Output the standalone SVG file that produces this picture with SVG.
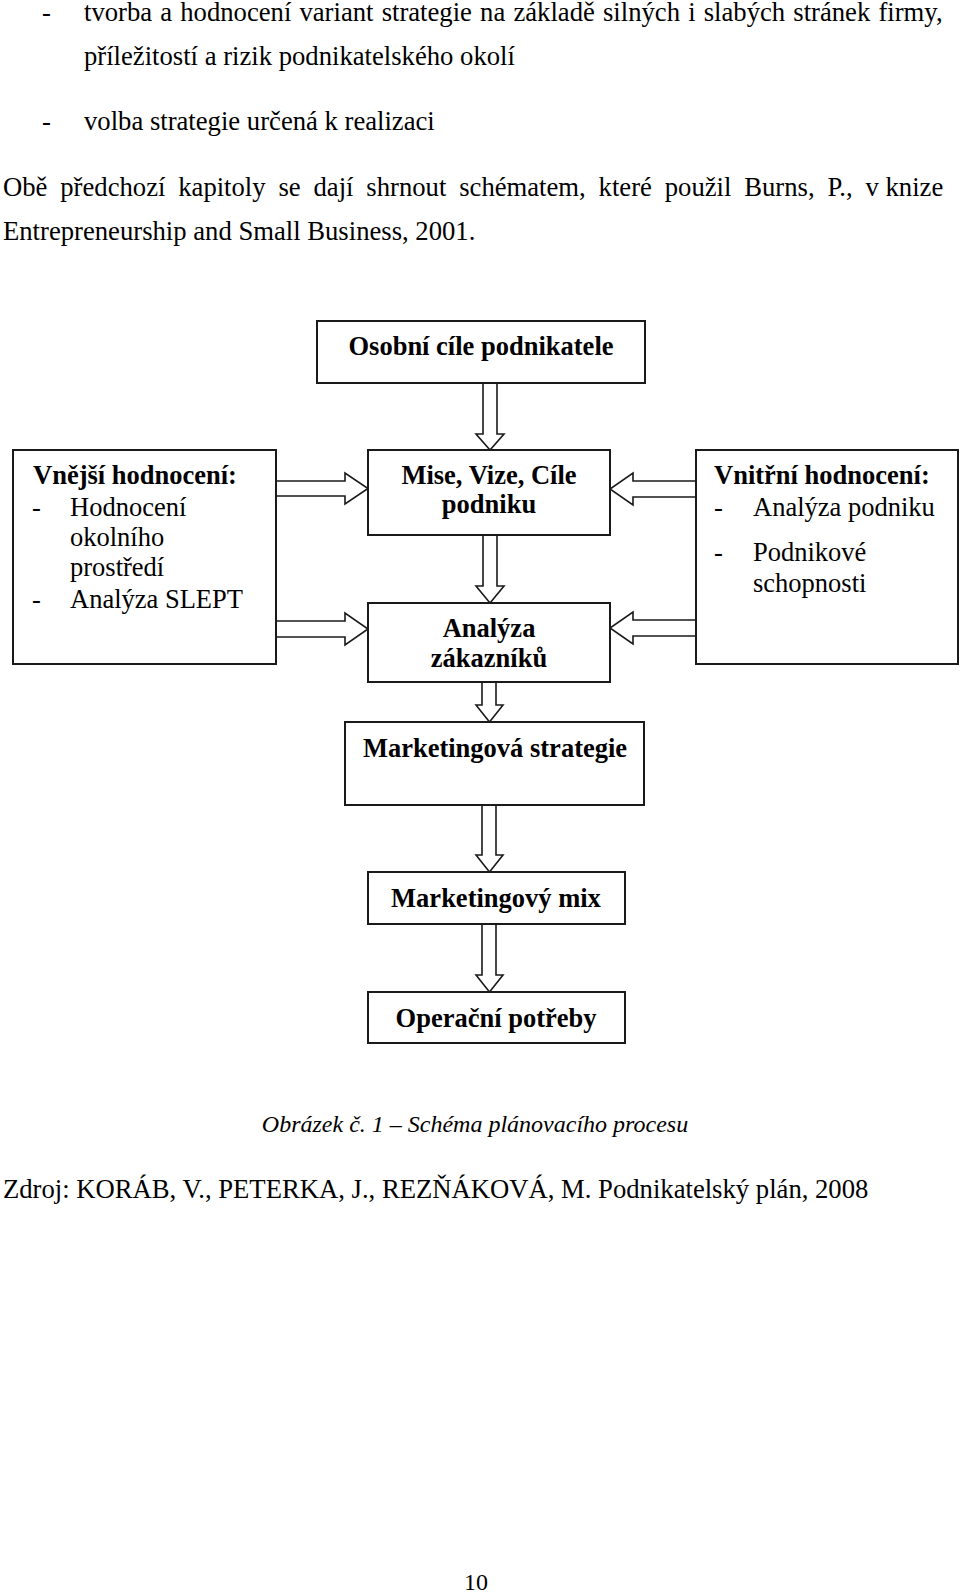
<svg xmlns="http://www.w3.org/2000/svg" width="960" height="1596" viewBox="0 0 960 1596">
<style>
text{font-family:"Liberation Serif","Times New Roman",serif;fill:#000}
.body{font-size:26.67px}
.b{font-size:26.5px;font-weight:bold}
.r{font-size:26.5px}
.box{fill:#fff;stroke:#1a1a1a;stroke-width:2}
.arr{fill:#fff;stroke:#1a1a1a;stroke-width:1.6;stroke-linejoin:miter}
.cap{font-size:24px;font-style:italic}
</style>
<rect width="960" height="1596" fill="#fff"/>
<g id="page-text">
<text class="body" x="42" y="21">-</text>
<text class="body" x="84" y="21" word-spacing="1.5">tvorba a hodnocení variant strategie na základě silných i slabých stránek firmy,</text>
<text class="body" x="84" y="65">příležitostí a rizik podnikatelského okolí</text>
<text class="body" x="42" y="130">-</text>
<text class="body" x="84" y="130">volba strategie určená k realizaci</text>
<text class="body" x="3" y="196"><tspan word-spacing="6.2">Obě předchozí kapitoly se dají shrnout schématem, které použil Burns, P., </tspan><tspan word-spacing="0">v knize</tspan></text>
<text class="body" x="3" y="240">Entrepreneurship and Small Business, 2001.</text>
</g>
<g id="connectors">
<polygon class="arr" points="483,383 497,383 497,434 504,434 490,450 476,434 483,434"/>
<polygon class="arr" points="483,535 497,535 497,586 504,586 490,603 476,586 483,586"/>
<polygon class="arr" points="482,682 496,682 496,705 503,705 489.5,722 476,705 482,705"/>
<polygon class="arr" points="482,805 496,805 496,855 503,855 489.5,872 476,855 482,855"/>
<polygon class="arr" points="482,924 496,924 496,975 503,975 489.5,992 476,975 482,975"/>
<polygon class="arr" points="276,481 345,481 345,473 368,488.5 345,504 345,496 276,496"/>
<polygon class="arr" points="276,621 345,621 345,613 368,629 345,645 345,637 276,637"/>
<polygon class="arr" points="696,481 633,481 633,473 610,489 633,505 633,497 696,497"/>
<polygon class="arr" points="696,620 633,620 633,612 610,628 633,644 633,636 696,636"/>
</g>
<g id="osobni">
<rect class="box" x="317" y="321" width="328" height="62"/>
<text class="b" x="481" y="355" text-anchor="middle">Osobní cíle podnikatele</text>
</g>
<g id="vnejsi">
<rect class="box" x="13" y="450" width="263" height="214"/>
<text class="b" x="33" y="484">Vnější hodnocení:</text>
<text class="r" x="32" y="516">-</text>
<text class="r" x="70" y="516">Hodnocení</text>
<text class="r" x="70" y="546">okolního</text>
<text class="r" x="70" y="576">prostředí</text>
<text class="r" x="32" y="608">-</text>
<text class="r" x="70" y="608">Analýza SLEPT</text>
</g>
<g id="mise">
<rect class="box" x="368" y="450" width="242" height="85"/>
<text class="b" x="489" y="484" text-anchor="middle">Mise, Vize, Cíle</text>
<text class="b" x="489" y="513" text-anchor="middle">podniku</text>
</g>
<g id="vnitrni">
<rect class="box" x="696" y="450" width="262" height="214"/>
<text class="b" x="714" y="484">Vnitřní hodnocení:</text>
<text class="r" x="714" y="516">-</text>
<text class="r" x="753" y="516">Analýza podniku</text>
<text class="r" x="714" y="561">-</text>
<text class="r" x="753" y="561">Podnikové</text>
<text class="r" x="753" y="592">schopnosti</text>
</g>
<g id="analyza">
<rect class="box" x="368" y="603" width="242" height="79"/>
<text class="b" x="489" y="637" text-anchor="middle">Analýza</text>
<text class="b" x="489" y="667" text-anchor="middle">zákazníků</text>
</g>
<g id="mstrategie">
<rect class="box" x="345" y="722" width="299" height="83"/>
<text class="b" x="495" y="757" text-anchor="middle">Marketingová strategie</text>
</g>
<g id="mmix">
<rect class="box" x="368" y="872" width="257" height="52"/>
<text class="b" x="496" y="907" text-anchor="middle">Marketingový mix</text>
</g>
<g id="operacni">
<rect class="box" x="368" y="992" width="257" height="51"/>
<text class="b" x="496" y="1027" text-anchor="middle">Operační potřeby</text>
</g>
<g id="caption">
<text class="cap" x="475" y="1132" text-anchor="middle">Obrázek č. 1 – Schéma plánovacího procesu</text>
<text class="body" x="3" y="1198">Zdroj: KORÁB, V., PETERKA, J., REZŇÁKOVÁ, M. Podnikatelský plán, 2008</text>
<text class="cap" x="476" y="1590" text-anchor="middle" font-style="normal" style="font-style:normal">10</text>
</g>
</svg>
